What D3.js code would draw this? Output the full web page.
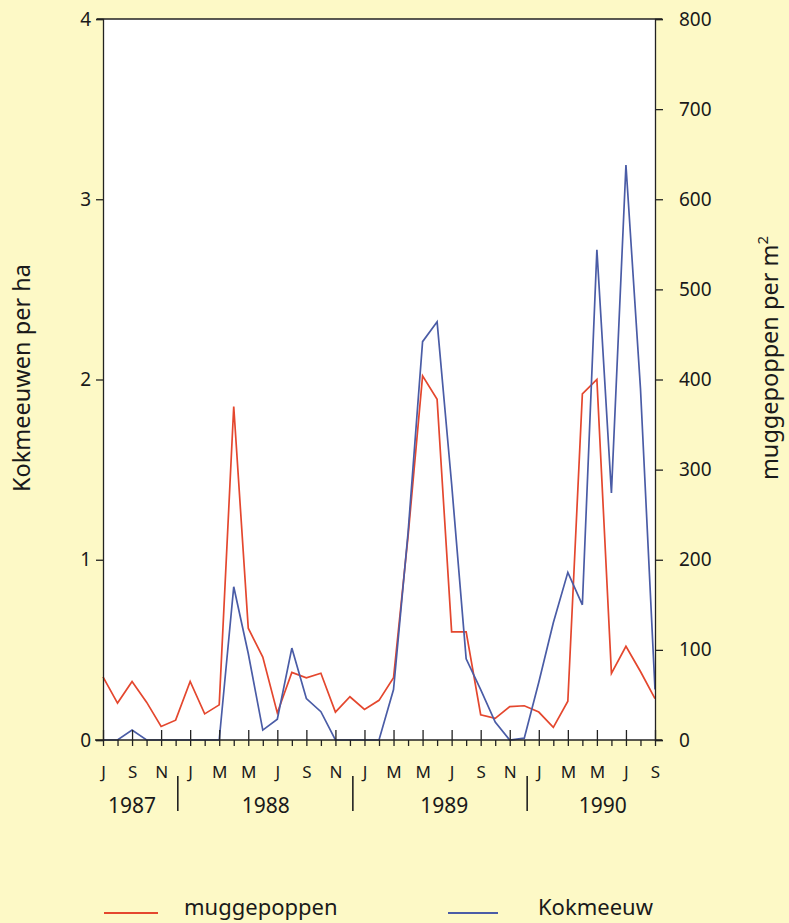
<!DOCTYPE html>
<html>
<head>
<meta charset="utf-8">
<script src="https://cdn.jsdelivr.net/npm/d3@7"></script>
<style>
  html, body { margin: 0; padding: 0; background: #FDF9C6; }
  svg { display: block; }
  text { font-family: "Noto Sans", "Open Sans", sans-serif; fill: #1a1a1a; }
</style>
</head>
<body>
<svg id="chart" width="789" height="923"></svg>
<script>
// ---- data (monthly, July 1987 = index 0 ... September 1990 = index 38) ----
const monthIndex = d3.range(0, 39);
const muggepoppen = [70, 41, 65, 42, 15, 22, 65, 29, 39, 370, 124, 92, 30, 75, 69, 74, 31, 48, 34, 44,
  69, 226, 404, 378, 120, 120, 28, 24, 37, 38, 31, 14, 43, 384, 400, 74, 104, 76, 46];
const kokmeeuw = [0, 0, 0.055, 0, 0, 0, 0, 0, 0, 0.85, 0.48, 0.055, 0.115, 0.51, 0.23, 0.157, 0, 0, 0, 0,
  0.28, 1.15, 2.21, 2.32, 1.42, 0.45, 0.28, 0.10, 0, 0.01, 0.32, 0.65, 0.93, 0.75, 2.72, 1.37, 3.19, 1.95, 0.28];
const monthLabels = ["J","S","N","J","M","M","J","S","N","J","M","M","J","S","N","J","M","M","J","S"];
const years = ["1987", "1988", "1989", "1990"];
const yearCenters = [2, 11.2, 23.5, 34.4];
const yearBreaks = [5.15, 17.2, 29.2];
const leftTicks = [0, 1, 2, 3, 4];
const rightTicks = [0, 100, 200, 300, 400, 500, 600, 700, 800];

const svg = d3.select("#chart");
const L = 103, R = 655, T = 19, B = 740;
const ink = "#222";
const red = "#E4472E", blue = "#4A5CA6";

const x = d3.scaleLinear().domain([0, 38]).range([L, R]);
const yL = d3.scaleLinear().domain([0, 4]).range([B, T]);
const yR = d3.scaleLinear().domain([0, 800]).range([B, T]);

// plot background
svg.append("rect").attr("x", L).attr("y", T).attr("width", R - L).attr("height", B - T).attr("fill", "#fff");

// lines
const lineR = d3.line().x((d, i) => x(monthIndex[i])).y(d => yR(d));
const lineL = d3.line().x((d, i) => x(monthIndex[i])).y(d => yL(d));
svg.append("path").datum(muggepoppen).attr("d", lineR).attr("fill", "none")
  .attr("stroke", red).attr("stroke-width", 1.7).attr("stroke-linejoin", "miter");
svg.append("path").datum(kokmeeuw).attr("d", lineL).attr("fill", "none")
  .attr("stroke", blue).attr("stroke-width", 1.7).attr("stroke-linejoin", "miter");

// top border
svg.append("line").attr("x1", L - 6).attr("x2", R + 7).attr("y1", T).attr("y2", T)
  .attr("stroke", ink).attr("stroke-width", 1.3);

// left axis
const gl = svg.append("g").attr("transform", `translate(${L},0)`)
  .call(d3.axisLeft(yL).tickValues(leftTicks).tickFormat(d3.format("d")).tickSize(7).tickPadding(5));
gl.select(".domain").attr("stroke", ink).attr("stroke-width", 1.3);
gl.selectAll(".tick line").attr("stroke", ink).attr("stroke-width", 1.3);
gl.selectAll(".tick text").style("font-size", "19px").style("font-family", "Noto Sans").attr("fill", "#1a1a1a");

// right axis
const gr = svg.append("g").attr("transform", `translate(${R},0)`)
  .call(d3.axisRight(yR).tickValues(rightTicks).tickFormat(d3.format("d")).tickSize(8).tickPadding(16));
gr.select(".domain").attr("stroke", ink).attr("stroke-width", 1.3);
gr.selectAll(".tick line").attr("stroke", ink).attr("stroke-width", 1.3);
gr.selectAll(".tick text").style("font-size", "19px").style("font-family", "Noto Sans").attr("fill", "#1a1a1a");

// bottom axis (monthly ticks, every other month labelled)
const gb = svg.append("g").attr("transform", `translate(0,${B})`)
  .call(d3.axisBottom(x).tickValues(monthIndex)
    .tickFormat(d => d % 2 === 0 ? monthLabels[d / 2] : "").tickSize(6).tickPadding(20));
gb.select(".domain").remove();
gb.append("line").attr("x1", L - 8).attr("x2", R + 7).attr("stroke", ink).attr("stroke-width", 1.3);
gb.selectAll(".tick line").attr("stroke", ink).attr("stroke-width", 1.3)
  .attr("y1", d => d % 2 === 0 ? -10 : 0);
gb.selectAll(".tick text").style("font-size", "17px").style("font-family", "Noto Sans").attr("fill", "#1a1a1a");

// year separators and labels
svg.selectAll(".ybreak").data(yearBreaks).enter().append("line")
  .attr("x1", d => x(d)).attr("x2", d => x(d)).attr("y1", 776).attr("y2", 811)
  .attr("stroke", ink).attr("stroke-width", 1.6);
svg.selectAll(".ylab").data(years).enter().append("text")
  .attr("x", (d, i) => x(yearCenters[i])).attr("y", 813).attr("text-anchor", "middle")
  .style("font-size", "21px").text(d => d);

// axis titles
svg.append("text").attr("transform", "translate(30,378) rotate(-90)").attr("text-anchor", "middle")
  .style("font-size", "23.5px").text("Kokmeeuwen per ha");
const rt = svg.append("text").attr("transform", "translate(778,358) rotate(-90)").attr("text-anchor", "middle")
  .style("font-size", "23.5px");
rt.append("tspan").text("muggepoppen per m");
rt.append("tspan").attr("dy", -10).style("font-size", "15px").text("2");

// legend
const legend = [
  { label: "muggepoppen", color: red, x1: 104, x2: 158, tx: 184 },
  { label: "Kokmeeuw", color: blue, x1: 448, x2: 498, tx: 538 }
];
const lg = svg.selectAll(".leg").data(legend).enter().append("g");
lg.append("line").attr("x1", d => d.x1).attr("x2", d => d.x2).attr("y1", 913).attr("y2", 913)
  .attr("stroke", d => d.color).attr("stroke-width", 1.8);
lg.append("text").attr("x", d => d.tx).attr("y", 915).style("font-size", "22px").text(d => d.label);
</script>
</body>
</html>
